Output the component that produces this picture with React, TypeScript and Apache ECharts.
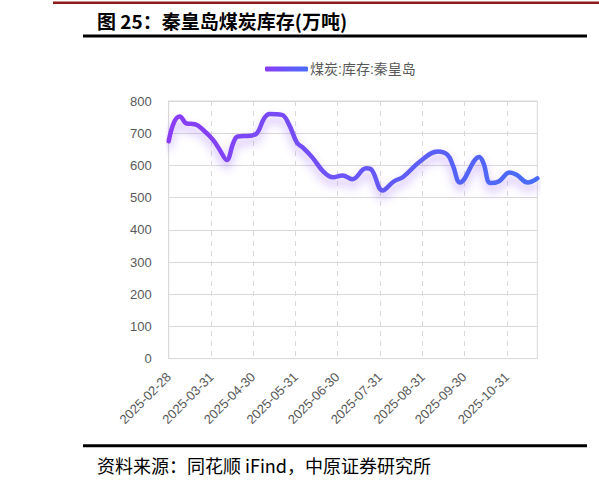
import * as echarts from 'echarts'
import { useEffect, useRef } from 'react'

// x 轴：逐日类目，从首日到末日
const firstDay = '2025-02-28'
const lastDay = '2025-11-22'

// 月末刻度标签
const tickLabels = [
  '2025-02-28', '2025-03-31', '2025-04-30', '2025-05-31', '2025-06-30',
  '2025-07-31', '2025-08-31', '2025-09-30', '2025-10-31',
]

// 煤炭:库存:秦皇岛（万吨）
const pointDates = [
  '2025-02-28', '2025-03-04', '2025-03-08', '2025-03-13', '2025-03-19', '2025-03-25',
  '2025-04-01', '2025-04-06', '2025-04-11', '2025-04-16', '2025-04-19', '2025-04-28',
  '2025-05-03', '2025-05-08', '2025-05-12', '2025-05-21', '2025-05-26', '2025-06-01',
  '2025-06-05', '2025-06-12', '2025-06-20', '2025-06-27', '2025-07-04', '2025-07-11',
  '2025-07-21', '2025-07-25', '2025-08-02', '2025-08-10', '2025-08-17', '2025-08-29',
  '2025-09-11', '2025-09-18', '2025-09-22', '2025-09-27', '2025-10-11', '2025-10-14',
  '2025-10-19', '2025-10-25', '2025-11-02', '2025-11-07', '2025-11-15', '2025-11-22',
]
const pointValues = [
  675, 735, 752, 730, 728, 710,
  680, 648, 617, 672, 690, 692,
  700, 745, 760, 757, 728, 670,
  656, 625, 581, 563, 569, 557,
  591, 586, 522, 550, 565, 612,
  643, 633, 598, 547, 626, 607,
  545, 550, 578, 571, 547, 560,
]

const buildDays = (from: string, to: string) => {
  const out: string[] = []
  const d = new Date(from + 'T00:00:00Z')
  const end = new Date(to + 'T00:00:00Z')
  while (d <= end) {
    out.push(d.toISOString().slice(0, 10))
    d.setUTCDate(d.getUTCDate() + 1)
  }
  return out
}

const days = buildDays(firstDay, lastDay)
const isTick = (_i: number, v: string) => tickLabels.includes(v)

const lineColor = () =>
  new echarts.graphic.LinearGradient(0, 0, 1, 0, [
    { offset: 0, color: '#8b3cf6' },
    { offset: 1, color: '#486df8' },
  ])

const App = () => {
  const containerRef = useRef<HTMLDivElement>(null)

  useEffect(() => {
    if (!containerRef.current) return
    const chart = echarts.init(containerRef.current, undefined, { renderer: 'svg' })

    chart.setOption({
      animation: false,
      backgroundColor: '#ffffff',
      graphic: [
        { type: 'rect', shape: { x: 53, y: 1.5, width: 546, height: 2.5 }, style: { fill: '#8c1a1a' } },
        {
          type: 'text', x: 97, y: 20,
          style: {
            text: '图 25：秦皇岛煤炭库存(万吨)', fill: '#000',
            font: 'bold 19px "Noto Sans CJK SC"', textVerticalAlign: 'middle',
          },
        },
        { type: 'rect', shape: { x: 83, y: 34.5, width: 504, height: 3 }, style: { fill: '#000' } },
        { type: 'rect', shape: { x: 83, y: 444.3, width: 504, height: 3 }, style: { fill: '#000' } },
        {
          type: 'text', x: 97, y: 464.5,
          style: {
            text: '资料来源：同花顺 iFind，中原证券研究所', fill: '#000',
            font: '18px "Noto Sans CJK SC"', textVerticalAlign: 'middle',
          },
        },
      ],
      legend: {
        left: 260,
        top: 57,
        icon: 'roundRect',
        itemWidth: 43,
        itemHeight: 5,
        itemGap: 10,
        textStyle: { color: '#595959', fontSize: 14, fontFamily: 'Arial, "Noto Sans CJK SC"', padding: [0, 0, 0, -3] },
        data: ['煤炭:库存:秦皇岛'],
      },
      grid: {
        left: 168.7,
        right: 61.7,
        top: 101,
        bottom: 124.4,
        show: true,
        borderColor: '#d9d9d9',
        borderWidth: 1,
      },
      xAxis: {
        type: 'category',
        data: days,
        boundaryGap: false,
        axisLine: { lineStyle: { color: '#d9d9d9' } },
        axisTick: { show: false },
        axisLabel: {
          interval: isTick,
          rotate: 45,
          margin: 16,
          color: '#595959',
          fontSize: 13,
          fontFamily: 'Arial',
        },
        splitLine: {
          show: true,
          interval: isTick,
          lineStyle: { color: '#d9d9d9', type: [5, 5] },
        },
      },
      yAxis: {
        type: 'value',
        min: 0,
        max: 800,
        interval: 100,
        axisLine: { show: true, lineStyle: { color: '#d9d9d9' } },
        axisTick: { show: false },
        axisLabel: { color: '#595959', fontSize: 13, margin: 17, fontFamily: 'Arial' },
        splitLine: { lineStyle: { color: '#d9d9d9' } },
      },
      series: [
        {
          name: '煤炭:库存:秦皇岛',
          type: 'line',
          data: pointDates.map((d, i) => [d, pointValues[i]]),
          smooth: 0.4,
          symbol: 'none',
          itemStyle: { color: lineColor() },
          lineStyle: {
            width: 4.5,
            color: lineColor(),
            cap: 'round',
            join: 'round',
            shadowColor: 'rgba(140, 80, 245, 0.45)',
            shadowBlur: 10,
            shadowOffsetY: 6,
          },
        },
      ],
    })

    return () => chart.dispose()
  }, [])

  return (
    <div
      ref={containerRef}
      style={{ position: 'fixed', left: 0, top: 0, width: 599, height: 483 }}
    />
  )
}

export default App
